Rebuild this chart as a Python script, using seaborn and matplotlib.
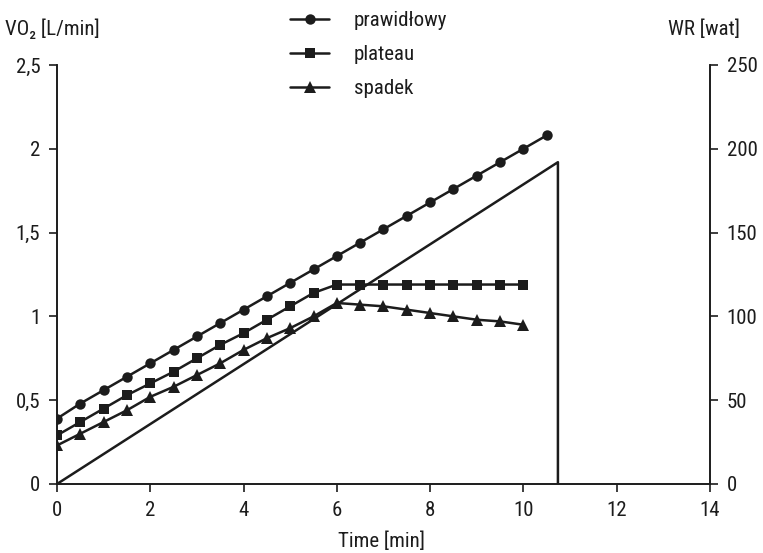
import pandas as pd
import matplotlib
matplotlib.use("Agg")
import matplotlib.pyplot as plt
from matplotlib import font_manager
import seaborn as sns

sns.set_style("ticks")

# reference uses a narrow sans; take the first condensed face that is installed
names = {f.name for f in font_manager.fontManager.ttflist}
narrow = [n for n in ["Liberation Sans Narrow", "Roboto Condensed", "Open Sans Condensed",
                      "DejaVu Sans Condensed", "Noto Sans Condensed"] if n in names]
plt.rcParams['font.family'] = narrow + ['DejaVu Sans']
if not narrow:
    plt.rcParams['font.stretch'] = 'condensed'

# data
time_a = [0, 0.5, 1, 1.5, 2, 2.5, 3, 3.5, 4, 4.5, 5, 5.5, 6, 6.5, 7, 7.5, 8, 8.5, 9, 9.5, 10, 10.5]
prawidlowy = [0.39, 0.48, 0.56, 0.64, 0.72, 0.80, 0.88, 0.96, 1.04, 1.12, 1.20, 1.28,
              1.36, 1.44, 1.52, 1.60, 1.68, 1.76, 1.84, 1.92, 2.00, 2.08]
time_b = [0, 0.5, 1, 1.5, 2, 2.5, 3, 3.5, 4, 4.5, 5, 5.5, 6, 6.5, 7, 7.5, 8, 8.5, 9, 9.5, 10]
plateau = [0.29, 0.37, 0.45, 0.53, 0.60, 0.67, 0.75, 0.83, 0.90, 0.98, 1.06, 1.14,
           1.19, 1.19, 1.19, 1.19, 1.19, 1.19, 1.19, 1.19, 1.19]
spadek = [0.23, 0.30, 0.37, 0.44, 0.52, 0.58, 0.65, 0.72, 0.80, 0.87, 0.93, 1.00,
          1.08, 1.07, 1.06, 1.04, 1.02, 1.00, 0.98, 0.97, 0.95]
wr_time = [0, 10.74, 10.74]
wr_watt = [0, 192, 0]

y_ticks = [0, 0.5, 1, 1.5, 2, 2.5]
y_labels = ["0", "0,5", "1", "1,5", "2", "2,5"]
y2_ticks = [0, 50, 100, 150, 200, 250]
x_ticks = [0, 2, 4, 6, 8, 10, 12, 14]

ink = "#1c1c1c"
fs = 15

fig = plt.figure(figsize=(7.63, 5.53), dpi=100)
ax = fig.add_axes([0.0747, 0.1248, 0.8558, 0.7577])
ax2 = ax.twinx()

df_a = pd.DataFrame({"t": time_a, "v": prawidlowy})
df_b = pd.DataFrame({"t": time_b, "p": plateau, "s": spadek})
df_w = pd.DataFrame({"t": wr_time, "w": wr_watt})

sns.lineplot(data=df_a, x="t", y="v", ax=ax, color=ink, lw=1.8, marker="o",
             markersize=7.5, markeredgewidth=0, label="prawidłowy")
sns.lineplot(data=df_b, x="t", y="p", ax=ax, color=ink, lw=1.8, marker="s",
             markersize=7.5, markeredgewidth=0, label="plateau")
sns.lineplot(data=df_b, x="t", y="s", ax=ax, color=ink, lw=1.8, marker="^",
             markersize=8, markeredgewidth=0, label="spadek")
sns.lineplot(data=df_w, x="t", y="w", ax=ax2, color=ink, lw=1.8, sort=False,
             estimator=None)

ax.set_xlim(0, 14)
ax.set_ylim(0, 2.5)
ax2.set_ylim(0, 250)
ax.set_xticks(x_ticks)
ax.set_xticklabels([str(v) for v in x_ticks], fontsize=fs, color=ink)
ax.set_yticks(y_ticks)
ax.set_yticklabels(y_labels, fontsize=fs, color=ink)
ax2.set_yticks(y2_ticks)
ax2.set_yticklabels([str(v) for v in y2_ticks], fontsize=fs, color=ink)
ax.set_xlabel("")
ax.set_ylabel("")
ax2.set_ylabel("")

for a in (ax, ax2):
    a.tick_params(direction="out", length=6, width=1.2, color=ink, pad=6)
    a.spines["top"].set_visible(False)
    for s in ("left", "right", "bottom"):
        a.spines[s].set_linewidth(1.2)
        a.spines[s].set_color(ink)

handles, labels = ax.get_legend_handles_labels()
ax.get_legend().remove()
fig.legend(handles, labels, loc="upper left", bbox_to_anchor=(0.356, 1.014),
           frameon=False, fontsize=fs, handlelength=1.85, labelspacing=0.72,
           handletextpad=1.2, labelcolor=ink)

fig.text(0.006, 0.948, "VO₂ [L/min]", fontsize=fs, color=ink, va="center", ha="left")
fig.text(0.97, 0.948, "WR [wat]", fontsize=fs, color=ink, va="center", ha="right")
fig.text(0.5, 0.022, "Time [min]", fontsize=fs, color=ink, va="center", ha="center")

plt.savefig("out.png", dpi=100)
